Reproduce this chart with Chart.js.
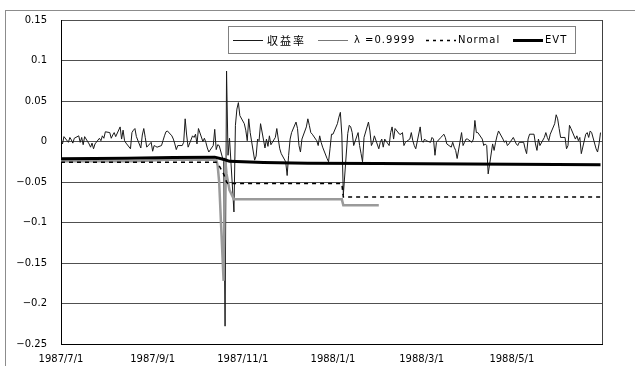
<!DOCTYPE html>
<html>
<head>
<meta charset="utf-8">
<script src="https://cdn.jsdelivr.net/npm/chart.js@4.4.0/dist/chart.umd.min.js"></script>
<style>
  html, body { margin: 0; padding: 0; background: #fff; }
  canvas { display: block; }
</style>
</head>
<body>
<canvas id="myChart" width="635" height="366"></canvas>
<script>
// daily returns, one value per weekday of each month
const retJul = [0.002, -0.003, 0.006, -0.001, 0.005, 0.002, -0.002, 0.004, 0.007, -0.001, 0.005, -0.004, 0.006, -0.003, -0.007, -0.002, -0.009, -0.003, 0.004, 0.001, 0.007, 0.004, 0.012];
const retAug = [0.011, 0.004, 0.008, 0.011, 0.006, 0.018, 0.003, 0.014, 0.001, -0.002, -0.009, 0.011, 0.014, 0.016, 0.006, -0.008, 0.008, 0.016, 0.005, -0.007, -0.001];
const retSep = [-0.012, -0.005, -0.006, -0.007, -0.005, 0.001, 0.007, 0.012, 0.013, 0.007, 0.003, -0.003, -0.010, -0.005, -0.005, -0.001, 0.028, 0.008, -0.007, 0.007, 0.005, 0.009];
const retOct = [-0.003, 0.016, 0.000, 0.004, -0.001, -0.008, -0.013, -0.005, 0.015, -0.010, -0.004, -0.005, -0.025, -0.228, 0.087, -0.017, 0.004, -0.087, 0.020, 0.040, 0.048, 0.032];
const retNov = [0.022, 0.014, 0.001, 0.028, 0.011, -0.023, -0.018, 0.003, 0.001, 0.022, -0.008, 0.003, -0.006, 0.007, -0.004, 0.005, 0.016, 0.003, -0.009, -0.015, -0.025];
const retDec = [-0.042, -0.017, 0.003, 0.011, 0.024, 0.016, -0.005, -0.013, 0.003, 0.018, 0.028, 0.020, 0.011, 0.009, 0.001, -0.005, 0.007, -0.001, -0.007, -0.021, -0.025, -0.009, 0.009];
const retJan = [0.009, 0.022, 0.030, 0.036, 0.008, -0.066, 0.010, 0.020, 0.018, 0.011, -0.005, 0.011, -0.005, -0.015, -0.025, 0.005, 0.024, 0.013, -0.005, -0.001, 0.007];
const retFeb = [-0.009, -0.001, 0.003, -0.007, 0.003, -0.005, 0.011, 0.018, 0.003, 0.016, 0.009, 0.009, 0.011, -0.005, -0.001, 0.003, 0.011, 0.001, -0.005, -0.009, 0.018];
const retMar = [0.001, -0.001, 0.003, 0.001, -0.001, 0.005, 0.003, -0.017, -0.001, 0.005, 0.007, 0.009, 0.005, -0.003, -0.007, -0.001, -0.007, -0.011, -0.021, 0.011, -0.005, -0.001, 0.003];
const retApr = [0.003, -0.001, 0.003, 0.026, 0.011, 0.011, 0.003, -0.005, -0.003, -0.005, -0.040, -0.003, -0.011, -0.001, 0.007, 0.013, 0.003, -0.001, 0.001, -0.005, -0.003];
const retMay = [0.005, 0.001, -0.003, -0.005, -0.001, -0.001, -0.009, -0.015, 0.003, 0.009, 0.009, -0.003, -0.011, 0.003, -0.005, 0.005, 0.011, 0.005, 0.001, 0.009, 0.022, 0.033];
const retJun = [0.028, 0.016, 0.005, 0.005, -0.009, -0.005, 0.020, 0.016, 0.003, 0.007, 0.001, 0.005, -0.015, 0.009, 0.011, 0.005, 0.013, 0.011, -0.009, -0.013, -0.003, 0.011];

// VaR lines, given at the dates where they change
const lambdaDates = ['1987/7/1', '1987/8/20', '1987/9/10', '1987/10/14', '1987/10/15', '1987/10/16', '1987/10/19', '1987/10/20', '1987/10/21', '1987/10/22', '1987/10/23', '1987/10/26', '1988/1/7', '1988/1/8', '1988/2/1'];
const lambdaVals  = [-0.0245, -0.0245, -0.0225, -0.0225, -0.030, -0.050, -0.172, -0.020, -0.040, -0.050, -0.060, -0.0714, -0.0714, -0.0788, -0.0788];
const normalDates = ['1987/7/1', '1987/10/14', '1987/10/16', '1987/10/19', '1987/10/20', '1987/10/21', '1987/10/22', '1988/1/7', '1988/1/8', '1988/6/30'];
const normalVals  = [-0.0255, -0.0255, -0.030, -0.040, -0.045, -0.050, -0.052, -0.052, -0.0685, -0.0685];
const evtDates = ['1987/7/1', '1987/8/15', '1987/9/15', '1987/10/13', '1987/10/20', '1987/10/23', '1987/11/15', '1987/12/15', '1988/2/1', '1988/4/1', '1988/6/30'];
const evtVals  = [-0.0213, -0.0208, -0.0198, -0.0193, -0.0225, -0.0245, -0.026, -0.0268, -0.0272, -0.0278, -0.0287];

const seriesLabels = ['収益率', 'λ =0.9999', 'Normal', 'EVT'];
const xTickDates = ['1987/7/1', '1987/9/1', '1987/11/1', '1988/1/1', '1988/3/1', '1988/5/1'];
const yTickValues = [0.15, 0.1, 0.05, 0, -0.05, -0.1, -0.15, -0.2, -0.25];
const yTickLabels = ['0.15', '0.1', '0.05', '0', '−0.05', '−0.1', '−0.15', '−0.2', '−0.25'];

const startDate = new Date(1987, 6, 1);
function dayOf(s) {
    const p = s.split('/');
    return Math.round((new Date(+p[0], p[1] - 1, +p[2]) - startDate) / 86400000);
}
function weekdays(y, m) {
    const out = [];
    for (let d = 1; d <= 31; d++) {
        const dt = new Date(y, m - 1, d);
        if (dt.getMonth() !== m - 1) break;
        if (dt.getDay() !== 0 && dt.getDay() !== 6) out.push(Math.round((dt - startDate) / 86400000));
    }
    return out;
}

const months = [
    [1987, 7, retJul], [1987, 8, retAug], [1987, 9, retSep], [1987, 10, retOct],
    [1987, 11, retNov], [1987, 12, retDec], [1988, 1, retJan], [1988, 2, retFeb],
    [1988, 3, retMar], [1988, 4, retApr], [1988, 5, retMay], [1988, 6, retJun]
];
const returnsData = [];
months.forEach(([y, m, vals]) => {
    const days = weekdays(y, m);
    vals.forEach((v, i) => {
        if (i < days.length) returnsData.push({ x: days[i], y: v });
    });
});
const toPoints = (dates, vals) => dates.map((d, i) => ({ x: dayOf(d), y: vals[i] }));

// outer frame of the chart object
const framePlugin = {
    id: 'frame',
    beforeDraw(chart) {
        const ctx = chart.ctx;
        ctx.save();
        ctx.fillStyle = '#fff';
        ctx.fillRect(0, 0, chart.width, chart.height);
        ctx.strokeStyle = '#8c8c8c';
        ctx.lineWidth = 1;
        ctx.strokeRect(5.5, 10.5, 700, 400);
        ctx.restore();
    },
    afterDatasetsDraw(chart) {
        const a = chart.chartArea;
        const ctx = chart.ctx;
        ctx.save();
        ctx.strokeStyle = '#404040';
        ctx.lineWidth = 1;
        ctx.beginPath();
        ctx.moveTo(Math.round(a.right) + 0.5, a.top);
        ctx.lineTo(Math.round(a.right) + 0.5, a.bottom);
        ctx.stroke();
        ctx.restore();
    }
};

// legend box drawn inside the plot area
const legendPlugin = {
    id: 'boxLegend',
    afterDraw(chart) {
        const ctx = chart.ctx;
        const slots = [
            { x: 233, tx: 267, font: '11px "Noto Sans CJK JP"', sp: '2px' },
            { x: 318, tx: 354, font: '10px "DejaVu Sans"', sp: '1px' },
            { x: 426, tx: 458, font: '10px "DejaVu Sans"', sp: '1px' },
            { x: 513, tx: 545, font: '10px "DejaVu Sans"', sp: '1px' }
        ];
        const legendLine = [
            { w: 1, c: '#1a1a1a', dash: [] },
            { w: 1, c: '#777', dash: [] },
            { w: 1.5, c: '#000', dash: [3, 4] },
            { w: 3, c: '#000', dash: [] }
        ];
        ctx.save();
        ctx.fillStyle = '#fff';
        ctx.fillRect(228.5, 26.5, 347, 27);
        ctx.strokeStyle = '#808080';
        ctx.lineWidth = 1;
        ctx.strokeRect(228.5, 26.5, 347, 27);
        const ly = 40.5;
        chart.data.datasets.forEach((ds, i) => {
            const s = slots[i];
            const l = legendLine[i];
            ctx.beginPath();
            ctx.setLineDash(l.dash);
            ctx.lineWidth = l.w;
            ctx.strokeStyle = l.c;
            ctx.moveTo(s.x, ly);
            ctx.lineTo(s.x + 30, ly);
            ctx.stroke();
            ctx.setLineDash([]);
            ctx.font = s.font;
            ctx.letterSpacing = s.sp;
            ctx.fillStyle = '#000';
            ctx.textBaseline = 'middle';
            ctx.textAlign = 'left';
            ctx.fillText(ds.label, s.tx, ly);
        });
        ctx.letterSpacing = '0px';
        ctx.restore();
    }
};

const ctx = document.getElementById('myChart').getContext('2d');
new Chart(ctx, {
    type: 'line',
    data: {
        datasets: [
            {
                label: seriesLabels[0],
                data: returnsData,
                borderColor: '#1a1a1a',
                borderWidth: 1,
                borderJoinStyle: 'round',
                pointRadius: 0,
                order: 4
            },
            {
                label: seriesLabels[1],
                data: toPoints(lambdaDates, lambdaVals),
                borderColor: '#9a9a9a',
                borderWidth: 2.5,
                pointRadius: 0,
                order: 3
            },
            {
                label: seriesLabels[2],
                data: toPoints(normalDates, normalVals),
                borderColor: '#000',
                borderWidth: 1.5,
                borderDash: [4, 4],
                pointRadius: 0,
                order: 2
            },
            {
                label: seriesLabels[3],
                data: toPoints(evtDates, evtVals),
                borderColor: '#000',
                borderWidth: 3,
                pointRadius: 0,
                order: 1
            }
        ]
    },
    options: {
        responsive: false,
        animation: false,
        layout: { padding: { left: 0, right: 33, top: 19, bottom: 0 } },
        plugins: {
            legend: { display: false },
            tooltip: { enabled: false }
        },
        scales: {
            x: {
                type: 'linear',
                min: 0,
                max: dayOf('1988/7/1'),
                afterBuildTicks: function(scale) {
                    scale.ticks = xTickDates.map(d => ({ value: dayOf(d) }));
                },
                afterFit: function(scale) { scale.height = 22; },
                ticks: {
                    autoSkip: false,
                    maxRotation: 0,
                    padding: 9,
                    color: '#000',
                    font: { family: '"DejaVu Sans"', size: 10 },
                    callback: function(value) {
                        const i = xTickDates.findIndex(d => dayOf(d) === value);
                        return i >= 0 ? xTickDates[i] : '';
                    }
                },
                grid: { display: false, drawTicks: false },
                border: { display: true, color: '#000', width: 1 }
            },
            y: {
                min: -0.25,
                max: 0.15,
                afterBuildTicks: function(scale) {
                    scale.ticks = yTickValues.map(v => ({ value: v }));
                },
                afterFit: function(scale) { scale.width = 61; },
                ticks: {
                    padding: 14,
                    color: '#000',
                    font: { family: '"DejaVu Sans"', size: 10 },
                    callback: function(value) {
                        const i = yTickValues.findIndex(v => Math.abs(v - value) < 1e-9);
                        return i >= 0 ? yTickLabels[i] : '';
                    }
                },
                grid: { color: '#505050', lineWidth: 1, drawTicks: false },
                border: { display: true, color: '#000', width: 1 }
            }
        }
    },
    plugins: [framePlugin, legendPlugin]
});
</script>
</body>
</html>
